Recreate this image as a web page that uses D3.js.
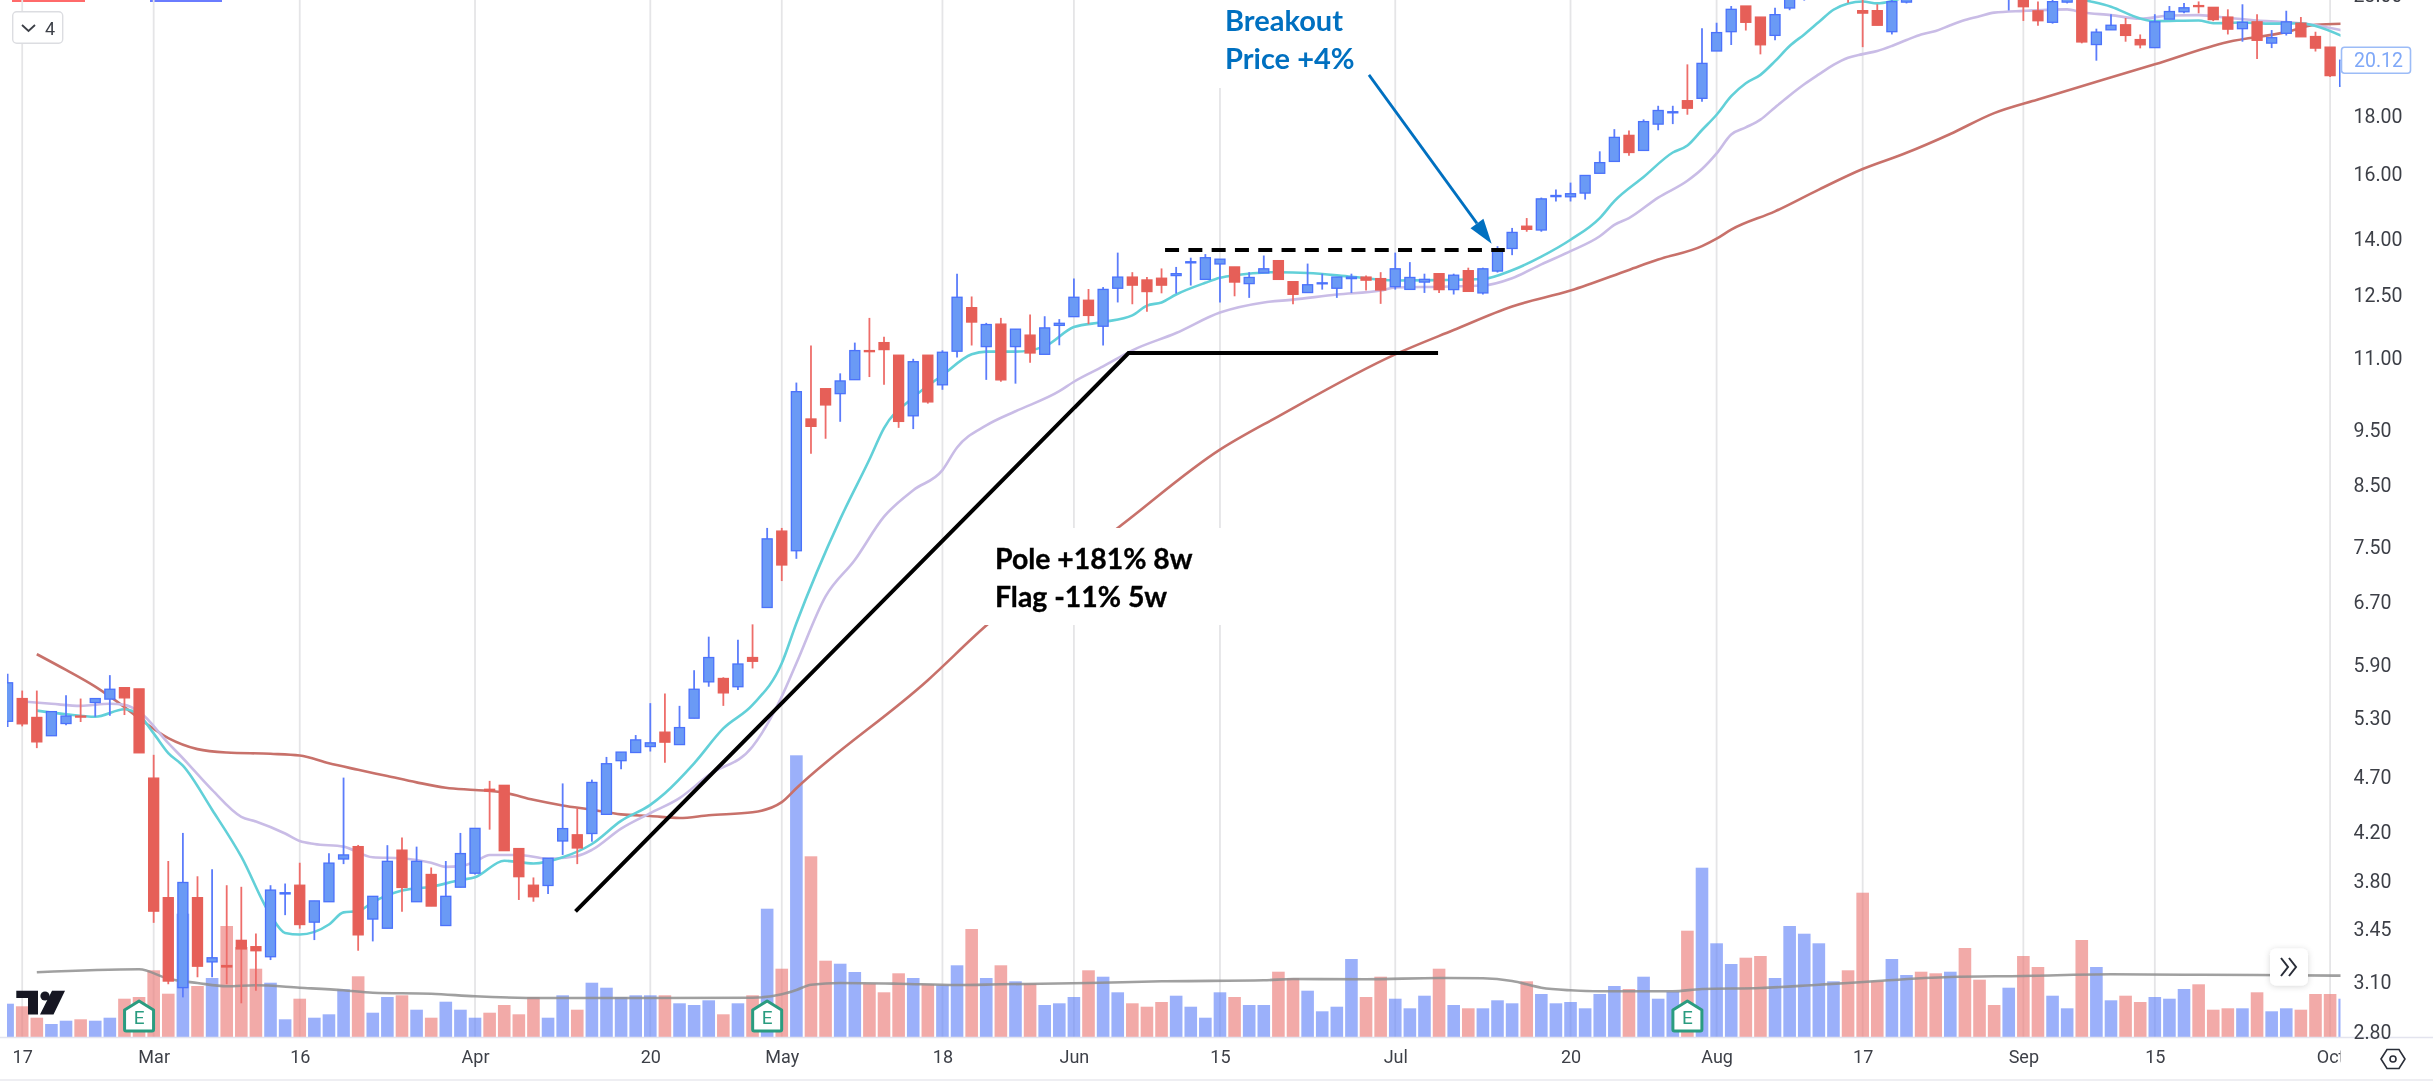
<!DOCTYPE html>
<html>
<head>
<meta charset="utf-8">
<script src="https://cdn.jsdelivr.net/npm/d3@7/dist/d3.min.js"></script>
<style>
	html, body { margin: 0; padding: 0; background: #fff; overflow: hidden; }
	svg { display: block; }
</style>
</head>
<body>
<div id="chart"></div>
<script>
// OHLC, one entry per trading day (offscreen highs around 124-137 are guesses)
const opens = [5.253,5.501,5.294,5.101,5.229,5.309,5.457,5.495,5.624,5.61,4.68,3.671,3.058,3.671,3.222,3.198,3.366,3.323,3.256,3.699,
	3.765,3.493,3.641,3.971,4.072,3.515,3.45,4.043,3.641,3.848,3.469,3.75,3.858,4.575,4.612,4.056,3.765,3.763,4.119,4.171,
	4.182,4.348,4.849,4.93,4.99,5.138,5.01,5.286,5.691,5.73,5.635,5.979,6.619,7.73,7.428,9.707,10.323,10.22,10.514,11.154,
	11.336,11.05,9.77,11.05,10.405,11.14,12.17,11.245,11.77,11.245,11.51,11.07,11.74,11.95,12.355,11.72,12.66,12.95,12.875,12.92,
	12.99,13.33,12.89,13.3,13.22,12.78,13.06,13.39,12.83,12.55,12.78,12.66,12.91,12.95,12.91,12.7,12.63,12.82,13.04,12.625,
	13.12,12.54,13.11,13.725,14.36,14.25,15.25,15.245,15.36,15.99,16.38,17.27,16.75,17.67,18.08,18.53,18.62,20.5,21.32,22.46,
	21.96,21.16,22.37,22.86,23.4,23.6,24.6,22.25,22.25,21.32,22.64,23.7,23.6,23.1,23.9,23.6,23.4,22.9,23.3,22.24,
	21.73,22.64,23.24,20.77,21.4,21.62,20.98,20.64,21.87,22.2,22.48,22.4,21.96,21.45,21.75,20.83,21.25,21.69,21.11,20.66,19.08];
const highs = [5.786,5.591,5.591,5.357,5.539,5.501,5.501,5.769,5.624,5.61,4.907,3.955,4.187,3.834,3.889,3.765,3.753,3.413,3.765,3.778,
	3.941,3.647,4.018,4.685,4.086,3.681,4.084,4.149,4.072,3.903,3.955,4.187,4.226,4.654,4.612,4.056,3.825,3.977,4.63,4.402,
	4.666,4.886,4.934,5.108,5.45,5.557,5.42,5.827,6.238,5.744,6.198,6.396,7.78,7.78,10.452,11.268,10.323,10.65,11.336,11.92,
	11.47,11.05,10.97,11.05,11.16,13.04,12.45,11.8,11.92,11.65,12.0,11.96,11.89,12.91,12.64,12.69,13.61,13.08,12.95,13.18,
	13.22,13.47,13.57,13.43,13.22,13.08,13.53,13.39,12.83,13.31,13.04,12.95,13.04,12.99,13.08,13.61,13.35,13.04,13.04,13.04,
	13.2,13.2,13.79,14.31,14.6,15.22,15.47,15.69,15.92,16.72,17.49,17.44,17.84,18.34,18.34,19.95,21.47,21.71,22.46,22.46,
	21.96,22.38,23.47,24.2,24.6,25.0,24.9,23.2,22.54,23.0,23.4,23.9,24.0,24.0,24.4,23.8,23.6,23.6,23.5,22.67,
	22.77,23.3,23.4,21.45,22.09,21.92,21.2,22.09,22.46,22.6,22.67,22.4,22.31,22.54,22.09,21.39,22.25,21.96,21.32,20.66,20.15];
const lows = [5.192,5.199,4.974,5.101,5.212,5.245,5.301,5.312,5.32,4.927,3.488,3.079,2.998,3.123,3.123,3.079,2.962,3.038,3.234,3.543,
	3.447,3.368,3.641,3.93,3.296,3.359,3.45,3.567,3.641,3.609,3.469,3.75,3.848,4.215,4.039,3.654,3.641,3.699,4.004,3.93,
	4.113,4.348,4.766,4.93,4.94,4.829,5.01,5.286,5.635,5.42,5.598,5.848,6.619,6.984,7.307,9.047,9.325,9.652,10.514,10.57,
	10.405,9.534,9.51,10.015,10.3,11.0,11.27,10.51,10.47,10.43,10.88,11.07,11.275,11.95,11.77,11.27,12.3,12.255,12.07,12.53,
	12.525,12.73,12.89,12.3,12.455,12.415,13.06,12.89,12.255,12.55,12.625,12.415,12.54,12.605,12.265,12.625,12.63,12.54,12.54,12.5,
	12.58,12.5,13.07,13.54,14.2,14.2,15.1,15.1,15.16,15.99,16.38,16.57,16.75,17.45,17.67,18.01,18.49,20.5,20.75,21.37,
	20.36,20.95,22.27,22.71,23.1,23.2,22.61,20.66,21.6,21.2,22.58,22.85,23.0,22.9,23.0,22.9,22.9,22.26,21.79,21.58,
	21.67,22.58,20.82,20.1,21.4,20.89,20.61,20.64,21.87,22.13,22.13,21.78,21.2,20.89,20.17,20.62,21.16,21.1,20.48,19.44,19.08];
const closes = [5.68,5.226,5.038,5.357,5.309,5.298,5.501,5.606,5.509,4.927,3.572,3.099,3.786,3.194,3.249,3.189,3.308,3.296,3.728,3.708,
	3.476,3.647,3.938,4.004,3.404,3.681,3.952,3.748,3.952,3.609,3.681,4.015,4.226,4.56,4.039,3.831,3.678,3.977,4.224,4.061,
	4.639,4.819,4.934,5.058,5.028,5.035,5.186,5.606,5.979,5.565,5.901,5.934,7.609,7.216,10.261,9.563,9.988,10.487,11.154,11.13,
	11.177,9.66,10.905,10.05,11.116,12.43,11.82,11.76,10.51,11.65,11.1,11.68,11.79,12.43,11.98,12.63,12.95,12.74,12.575,12.74,
	13.04,13.36,13.47,13.43,12.82,12.94,13.17,12.89,12.505,12.75,12.8,12.95,12.95,12.87,12.615,13.17,12.94,12.89,12.625,13.0,
	12.58,13.17,13.705,14.18,14.27,15.18,15.285,15.34,15.92,16.34,17.2,16.68,17.76,18.165,18.12,18.25,19.99,21.28,22.31,21.73,
	20.76,22.07,23.32,23.95,24.3,24.8,23.4,22.14,21.6,22.66,23.2,23.0,23.1,23.8,23.2,23.1,23.0,23.4,22.43,21.8,
	22.66,23.1,20.88,21.3,21.6,21.16,20.76,21.75,22.21,22.38,22.45,21.85,21.43,21.73,20.95,21.06,21.75,21.1,20.62,19.5,20.12];

// volume in picture units, same length as the candles
const volumes = [33.3,30.7,19.3,13,16.3,17.7,16.3,19.3,38.3,40,66.7,43.3,123.3,51,59,111,90,68.3,54.3,17.7,
	38.3,19.3,22.7,47.7,60.7,24.3,40,41.7,27.3,19.3,35.3,27.3,19.3,24.3,32,22.7,40,19.3,41.7,27.3,
	54.3,49.3,40,41.7,41.7,41.7,33.7,32,36.7,22.7,33.7,41.7,128.3,68.3,281.7,180.7,76.3,73.3,65,53.3,
	44.7,63.7,59,52.7,51.7,71.7,108,59,71.7,55.7,53.3,32,33.7,40,66.7,60.3,44.7,33.7,30.3,35,
	41.3,30.3,19.3,44.7,40,32,32,65.3,59,46.3,25.7,30.3,78,40,60.3,38.3,28.7,41.3,68.3,32,
	28.7,28.7,36.7,33.7,55.7,43,33.7,35,28.7,43,51,48,60.3,38.3,45,106.3,169.3,93.7,73,79.3,
	81,59,111,103.3,93.7,55.7,66.7,144.3,55.7,78,62,65.3,63.7,65.3,89,57.3,32,49.3,81,70,
	41.3,28.7,97,70,36.7,41.3,35,40,38.3,48,52.7,27.3,28.7,28.7,44.7,25.7,28.7,27.3,43,43,38.3];

// moving averages as [day index, price] knots
const maFast = [[2,5.368],[4,5.328],[6,5.301],[8,5.383],[9,5.32],[10,5.125],[11,4.924],[12,4.8],[14,4.389],[16,3.99],[18,3.543],[19,3.417],[20,3.406],[22,3.476],[23,3.563],[24,3.572],[25,3.637],[27,3.724],[29,3.754],[31,3.805],
	[32,3.826],[34,3.957],[36,3.935],[38,3.985],[40,4.094],[42,4.291],[44,4.433],[45,4.539],[47,4.823],[49,5.177],[51,5.431],[53,5.91],[54,6.41],[57,7.92],[59,8.94],[60,9.53],[62,10.14],[64,10.61],[66,11.07],[67,11.13],
	[69,11.13],[71,11.25],[73,11.7],[75,11.82],[77,11.98],[78,12.22],[79,12.3],[80,12.5],[82,12.8],[83,12.93],[84,13.0],[87,13.08],[89,13.06],[92,12.96],[95,12.86],[98,12.87],[101,12.9],[103,13.13],[105,13.5],[107,13.97],
	[109,14.6],[110,15.11],[112,15.87],[114,16.68],[115,16.92],[116,17.46],[117,18.01],[118,18.7],[119,19.2],[120,19.53],[121,20.08],[122,20.71],[123,21.2],[124,21.74],[125,22.29],[126,22.58],[127,22.67],[128,22.58],[129,22.69],[130,22.9],
	[134,23.47],[138,23.6],[142,22.77],[144,22.43],[146,21.9],[147,21.78],[150,21.81],[151,21.69],[153,21.72],[155,21.67],[157,21.69],[158,21.57],[160,21.08]];
const maMid = [[1,5.468],[3,5.443],[5,5.42],[7,5.443],[8,5.431],[9,5.357],[11,5.025],[12,4.873],[14,4.569],[16,4.326],[17,4.285],[19,4.182],[20,4.119],[21,4.094],[23,4.072],[25,3.985],[27,3.977],[29,3.941],[30,3.908],[31,3.914],
	[32,3.949],[33,4.004],[35,4.004],[37,3.973],[39,3.996],[40,4.045],[42,4.224],[44,4.359],[46,4.494],[48,4.71],[51,4.99],[53,5.524],[54,5.91],[56,6.77],[58,7.29],[60,7.96],[62,8.4],[64,8.75],[65,9.16],[67,9.58],
	[69,9.86],[72,10.27],[73,10.47],[75,10.8],[77,11.16],[80,11.56],[83,12.05],[86,12.3],[88,12.37],[91,12.5],[94,12.6],[95,12.68],[98,12.7],[101,12.73],[103,12.92],[105,13.29],[107,13.65],[109,14.07],[110,14.4],[111,14.6],
	[113,15.22],[115,15.75],[116,16.13],[117,16.65],[118,17.3],[119,17.55],[120,17.83],[121,18.28],[122,18.73],[123,19.16],[124,19.55],[125,19.93],[126,20.22],[127,20.37],[128,20.5],[129,20.71],[130,20.96],[131,21.2],[132,21.35],[133,21.6],
	[134,21.83],[135,22.0],[136,22.16],[138,22.24],[141,22.31],[142,22.18],[144,22.05],[146,21.89],[148,22.03],[150,22.05],[152,21.93],[154,21.81],[156,21.74],[158,21.6],[160,21.35]];
const maSlow = [[2,6.02],[4,5.83],[6,5.635],[8,5.406],[9,5.284],[11,5.076],[13,4.964],[15,4.93],[18,4.917],[20,4.9],[22,4.823],[24,4.76],[26,4.7],[28,4.64],[30,4.59],[32,4.569],[34,4.544],[36,4.478],[38,4.427],[40,4.389],
	[42,4.348],[44,4.334],[46,4.316],[48,4.34],[51,4.366],[53,4.457],[54,4.585],[63,5.71],[67,6.38],[76,7.78],[83,9.12],[87,9.76],[95,11.07],[99,11.63],[103,12.2],[107,12.6],[111,13.14],[113,13.42],[116,13.79],[117,14.0],
	[118,14.26],[121,14.8],[124,15.47],[127,16.13],[130,16.67],[133,17.32],[136,18.07],[139,18.58],[147,19.95],[152,20.88],[156,21.3],[158,21.62],[160,21.67]];
const maVolume = [[2,64.7],[9,67.7],[11,58.3],[13,54],[15,50.7],[17,51.7],[20,49.3],[23,46.7],[25,44.3],[29,43.3],[32,40.7],[37,39],[44,39],[51,39.3],[53,42.7],[54,47],[55,52.3],[57,54],[61,53.3],[65,52],
	[68,52.7],[74,54],[79,55.7],[86,56.7],[88,58],[93,57.7],[98,59],[101,58.7],[103,56],[105,49.3],[107,46.7],[109,45.7],[114,45.7],[116,48],[120,49],[124,52.3],[126,54],[128,56],[133,60],[138,61],
	[144,62.7],[149,62.3],[154,62],[160,61.3]];

// time axis
const timeTicks = [1,10,20,32,44,53,64,73,83,95,107,117,127,138,147,159];
const timeLabels = ["17","Mar","16","Apr","20","May","18","Jun","15","Jul","20","Aug","17","Sep","15","Oct"];

// price axis (20.00 sits under the last price tag)
const priceTicks = [2.8,3.1,3.45,3.8,4.2,4.7,5.3,5.9,6.7,7.5,8.5,9.5,11,12.5,14,16,18,23];
const lastPrice = 20.12;

// earnings flags, by day index
const earningsDays = [9,52,115];

// drawn annotations, in [day index, price]
const poleLine = [[38.88,3.57],[76.74,11.1],[97.93,11.1]];
const breakoutLine = [[79.24,13.68],[102.5,13.68]];
const breakoutArrow = [[93.2,19.53],[101.6,13.86]];

const width = 2433;
const height = 1081;
const plotRight = 2340.5;
const plotBottom = 1037;

const blueBody = "#6b9af5", blueEdge = "#4b72fb", blueWick = "#5b7cfb";
const redBody = "#e65f58", redEdge = "#e65f58", redWick = "#ee6d6a";

const xscale = d3.scaleLinear().domain([0, 160]).range([7.6, 2344.7]);
const yscale = d3.scaleLog().domain([2.8, 18]).range([1031, 115]);
const volscale = d3.scaleLinear().domain([0, 281.7]).range([plotBottom, 755.3]);

const svg = d3.select("#chart").append("svg").attr("width", width).attr("height", height)
	.style("font-family", "Roboto, sans-serif");

const defs = svg.append("defs");
defs.append("clipPath").attr("id", "plot-clip").append("rect")
	.attr("x", 7).attr("y", 0).attr("width", plotRight - 7).attr("height", plotBottom);
defs.append("clipPath").attr("id", "time-clip").append("rect")
	.attr("x", 0).attr("y", 0).attr("width", plotRight).attr("height", height - plotBottom);
const shadow = defs.append("filter").attr("id", "btn-shadow").attr("x", "-30%").attr("y", "-30%").attr("width", "160%").attr("height", "160%");
shadow.append("feDropShadow").attr("dx", 0).attr("dy", 1).attr("stdDeviation", 3).attr("flood-color", "#000").attr("flood-opacity", 0.16);

// the reference is an upscaled screenshot, so everything but the drawn notes is a touch soft
const soft = defs.append("filter").attr("id", "soft").attr("filterUnits", "userSpaceOnUse")
	.attr("x", 0).attr("y", 0).attr("width", width).attr("height", height);
soft.append("feGaussianBlur").attr("stdDeviation", 0.55);

const chart = svg.append("g").attr("filter", "url(#soft)");

// ============================
// Top left leftovers of the cropped legend
// ============================
chart.append("rect").attr("x", 12).attr("y", 0).attr("width", 73).attr("height", 2).attr("fill", "#ff6b6b");
chart.append("rect").attr("x", 150).attr("y", 0).attr("width", 72).attr("height", 2).attr("fill", "#6b7bff");

// ============================
// Grid, volume, averages, candles
// ============================
const plot = chart.append("g").attr("clip-path", "url(#plot-clip)");

plot.append("g").selectAll("line")
	.data(timeTicks)
	.join("line")
	.attr("x1", d => xscale(d)).attr("x2", d => xscale(d))
	.attr("y1", 0).attr("y2", plotBottom)
	.attr("stroke", "#e5e5e7").attr("stroke-width", 1.8);

const dayIndex = d3.range(opens.length);
const isUp = i => closes[i] >= opens[i];

plot.append("g").selectAll("rect")
	.data(dayIndex)
	.join("rect")
	.attr("x", i => xscale(i) - 6.3)
	.attr("width", 12.6)
	.attr("y", i => volscale(volumes[i]))
	.attr("height", i => plotBottom - volscale(volumes[i]))
	.attr("fill", i => isUp(i) ? "#6685f7" : "#eb7c79")
	.attr("fill-opacity", 0.65);

const volLine = d3.line().curve(d3.curveMonotoneX).x(d => xscale(d[0])).y(d => volscale(d[1]));
plot.append("path").attr("d", volLine(maVolume))
	.attr("fill", "none").attr("stroke", "#8f8f8f").attr("stroke-opacity", 0.85).attr("stroke-width", 2.6);

const maLine = d3.line().curve(d3.curveMonotoneX).x(d => xscale(d[0])).y(d => yscale(d[1]));
plot.append("path").attr("d", maLine(maSlow)).attr("fill", "none").attr("stroke", "#c8716b").attr("stroke-width", 2.6);
plot.append("path").attr("d", maLine(maMid)).attr("fill", "none").attr("stroke", "#c9bce6").attr("stroke-width", 2.6);
plot.append("path").attr("d", maLine(maFast)).attr("fill", "none").attr("stroke", "#62d0d8").attr("stroke-width", 2.6);

const candle = plot.append("g").selectAll("g")
	.data(dayIndex)
	.join("g");

candle.append("line")
	.attr("x1", i => xscale(i)).attr("x2", i => xscale(i))
	.attr("y1", i => yscale(highs[i])).attr("y2", i => yscale(lows[i]))
	.attr("stroke", i => isUp(i) ? blueWick : redWick)
	.attr("stroke-width", 1.8);

candle.append("rect")
	.attr("x", i => xscale(i) - 5)
	.attr("width", 10)
	.attr("y", i => yscale(Math.max(opens[i], closes[i])))
	.attr("height", i => Math.max(1, Math.abs(yscale(opens[i]) - yscale(closes[i]))))
	.attr("fill", i => isUp(i) ? blueBody : redBody)
	.attr("stroke", i => isUp(i) ? blueEdge : redEdge)
	.attr("stroke-width", 1.3);

// ============================
// Earnings flags and logo
// ============================
const flag = plot.append("g").selectAll("g")
	.data(earningsDays)
	.join("g")
	.attr("transform", d => `translate(${xscale(d)},1000)`);

flag.append("path")
	.attr("d", "M0,1 L14.5,10 V29.5 Q14.5,31 13,31 H-13 Q-14.5,31 -14.5,29.5 V10 Z")
	.attr("fill", "#fff").attr("stroke", "#2b9c80").attr("stroke-width", 3).attr("stroke-linejoin", "round");

flag.append("text")
	.attr("y", 24).attr("text-anchor", "middle")
	.attr("font-size", 19).attr("fill", "#2b9c80")
	.text("E");

chart.append("path")
	.attr("d", "M16.3,990.7 H38 V1014.5 H28 V998 H16.3 Z M52,990.7 H65 L53.5,1014.5 H40 Z")
	.attr("fill", "#131722");
chart.append("circle").attr("cx", 45).attr("cy", 996).attr("r", 4.6).attr("fill", "#131722");

// ============================
// Axes
// ============================
chart.append("line").attr("x1", 0).attr("x2", width).attr("y1", plotBottom + 0.5).attr("y2", plotBottom + 0.5)
	.attr("stroke", "#e3e4ee").attr("stroke-width", 1.5);
chart.append("line").attr("x1", 0).attr("x2", width).attr("y1", 1080).attr("y2", 1080)
	.attr("stroke", "#e9e9ee").attr("stroke-width", 1.5);

// the last label runs into the price scale and gets cut there, as in the reference
const timeAxis = chart.append("g")
	.attr("transform", `translate(0, ${plotBottom})`)
	.attr("clip-path", "url(#time-clip)")
	.call(d3.axisBottom(xscale).tickValues(timeTicks).tickSize(0).tickPadding(13)
		.tickFormat((d, i) => timeLabels[i]));
timeAxis.select(".domain").remove();
timeAxis.selectAll("text").attr("font-size", 18).attr("font-family", "Roboto, sans-serif").attr("fill", "#3c3f47");

const priceAxis = chart.append("g")
	.attr("transform", `translate(${plotRight}, 1)`)
	.call(d3.axisRight(yscale).tickValues(priceTicks).tickSize(0).tickPadding(13)
		.tickFormat(d3.format(".2f")));
priceAxis.select(".domain").remove();
priceAxis.selectAll("text").attr("font-size", 19.5).attr("font-family", "Roboto, sans-serif").attr("fill", "#3c3f47");

// last price tag
const lastTag = chart.append("g").attr("transform", `translate(2341.5, ${yscale(lastPrice)})`);
lastTag.append("rect").attr("x", 0).attr("y", -13).attr("width", 69).attr("height", 26).attr("rx", 3)
	.attr("fill", "#fff").attr("stroke", "#9cbcf7").attr("stroke-width", 1.6);
lastTag.append("text").attr("x", 12.5).attr("y", 7).attr("font-size", 19.5).attr("fill", "#7fa8f8").text(d3.format(".2f")(lastPrice));

// ============================
// Chart buttons
// ============================
const dropdown = chart.append("g");
dropdown.append("rect").attr("x", 12.7).attr("y", 11.7).attr("width", 50).attr("height", 31.6).attr("rx", 4)
	.attr("fill", "#fff").attr("stroke", "#dcdde1").attr("stroke-width", 1.4);
dropdown.append("path").attr("d", "M22,25 L28.5,31 L35,25").attr("fill", "none").attr("stroke", "#3c3f47").attr("stroke-width", 1.8);
dropdown.append("text").attr("x", 45).attr("y", 35).attr("font-size", 18).attr("fill", "#3c3f47").text("4");

const goLive = chart.append("g").attr("transform", "translate(2289, 967)");
goLive.append("rect").attr("x", -19).attr("y", -18.5).attr("width", 38).attr("height", 37).attr("rx", 6)
	.attr("fill", "#fff").attr("filter", "url(#btn-shadow)");
goLive.append("path").attr("d", "M-8,-9 L-1,0 L-8,9 M0,-9 L7,0 L0,9")
	.attr("fill", "none").attr("stroke", "#2a2e39").attr("stroke-width", 2);

const settings = chart.append("g").attr("transform", "translate(2393, 1059)");
settings.append("path").attr("d", "M-12,0 L-6,-9.5 H6 L12,0 L6,9.5 H-6 Z")
	.attr("fill", "none").attr("stroke", "#2a2e39").attr("stroke-width", 1.6);
settings.append("circle").attr("r", 3).attr("fill", "none").attr("stroke", "#2a2e39").attr("stroke-width", 1.6);

// ============================
// Hand drawn annotations
// ============================
const noteFont = "Lato, 'Noto Sans', sans-serif";
svg.append("rect").attr("x", 985).attr("y", 528).attr("width", 245).attr("height", 97).attr("fill", "#fff");
svg.append("rect").attr("x", 1190).attr("y", 0).attr("width", 190).attr("height", 88).attr("fill", "#fff");

svg.append("text").attr("x", 995).attr("y", 569)
	.attr("font-family", noteFont).attr("font-size", 28.4).attr("font-weight", 700).attr("fill", "#000")
	.attr("stroke", "#000").attr("stroke-width", 0.35)
	.text("Pole +181% 8w");
svg.append("text").attr("x", 995).attr("y", 607)
	.attr("font-family", noteFont).attr("font-size", 28.4).attr("font-weight", 700).attr("fill", "#000")
	.attr("stroke", "#000").attr("stroke-width", 0.35)
	.text("Flag -11% 5w");

svg.append("text").attr("x", 1225).attr("y", 31)
	.attr("font-family", noteFont).attr("font-size", 29).attr("font-weight", 700).attr("fill", "#0070c0")
	.text("Breakout");
svg.append("text").attr("x", 1225).attr("y", 69)
	.attr("font-family", noteFont).attr("font-size", 29).attr("font-weight", 700).attr("fill", "#0070c0")
	.text("Price +4%");

const noteLine = d3.line().x(d => xscale(d[0])).y(d => yscale(d[1]));

svg.append("path").attr("d", noteLine(poleLine))
	.attr("fill", "none").attr("stroke", "#000").attr("stroke-width", 4).attr("stroke-linejoin", "miter");

svg.append("path").attr("d", noteLine(breakoutLine))
	.attr("fill", "none").attr("stroke", "#000").attr("stroke-width", 4).attr("stroke-dasharray", "14 9.3");

// arrow head is worked out from the shaft direction
const [ax0, ay0] = [xscale(breakoutArrow[0][0]), yscale(breakoutArrow[0][1])];
const [ax1, ay1] = [xscale(breakoutArrow[1][0]), yscale(breakoutArrow[1][1])];
const arrowLen = Math.hypot(ax1 - ax0, ay1 - ay0);
const ux = (ax1 - ax0) / arrowLen, uy = (ay1 - ay0) / arrowLen;
const headLen = 25, headHalf = 8;
svg.append("line")
	.attr("x1", ax0).attr("y1", ay0)
	.attr("x2", ax1 - ux * headLen).attr("y2", ay1 - uy * headLen)
	.attr("stroke", "#0070c0").attr("stroke-width", 2.8);
svg.append("polygon")
	.attr("points", [
		[ax1, ay1],
		[ax1 - ux * headLen - uy * headHalf, ay1 - uy * headLen + ux * headHalf],
		[ax1 - ux * headLen + uy * headHalf, ay1 - uy * headLen - ux * headHalf]
	].map(p => p.join(",")).join(" "))
	.attr("fill", "#0070c0");
</script>
</body>
</html>
